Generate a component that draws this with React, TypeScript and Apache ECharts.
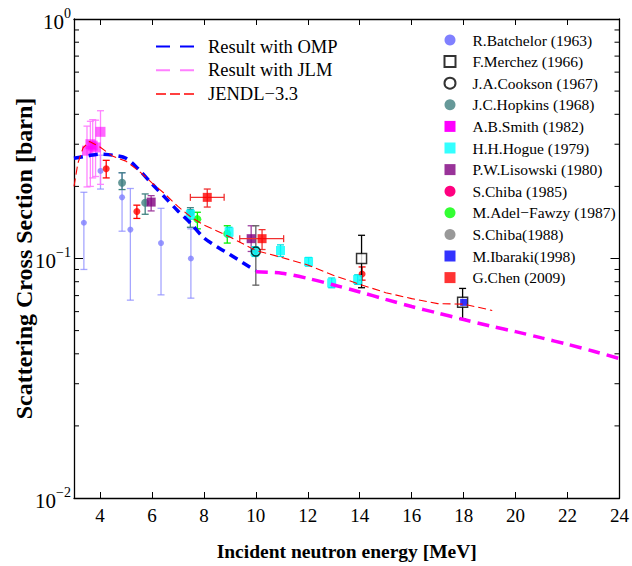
import React, { useEffect, useRef } from 'react';
import * as echarts from 'echarts';

// ---------- model curves ----------
const ompE = [3.0, 3.5, 4.0, 4.5, 5.0, 5.5, 6.0, 6.5, 7.0, 7.5, 8.0, 8.5, 9.0, 9.5, 10.0];
const ompV = [0.262, 0.268, 0.273, 0.27, 0.262, 0.235, 0.205, 0.18, 0.158, 0.14, 0.122, 0.112, 0.104, 0.096, 0.089];

const jlmE = [10.0, 11.0, 12.0, 13.0, 14.0, 15.0, 16.0, 17.0, 18.0, 19.0, 20.0, 21.0, 22.0, 23.0, 24.0];
const jlmV = [0.088, 0.0868, 0.0826, 0.0775, 0.0725, 0.0675, 0.063, 0.0592, 0.0556, 0.0523, 0.0495, 0.0466, 0.0438, 0.041, 0.0382];

const jendlE = [3.0, 3.15, 3.35, 3.6, 3.8, 4.0, 4.5, 5.0, 5.5, 6.0, 6.5, 7.0, 7.5, 8.0, 9.0, 10.0, 11.0, 12.0, 13.0, 14.0, 15.0, 16.0, 17.0, 18.0, 19.1];
const jendlV = [0.2, 0.25, 0.29, 0.308, 0.3, 0.292, 0.267, 0.255, 0.232, 0.207, 0.186, 0.165, 0.149, 0.138, 0.123, 0.108, 0.101, 0.094, 0.085, 0.078, 0.072, 0.068, 0.0648, 0.0645, 0.0607];

// ---------- experimental data ----------
const batchelorE = [3.38, 4.02, 4.85, 5.17, 6.35, 7.5];
const batchelorV = [0.141, 0.232, 0.18, 0.132, 0.116, 0.1];
const batchelorLo = [0.09, 0.195, 0.13, 0.067, 0.0705, 0.0683];
const batchelorHi = [0.189, 0.27, 0.228, 0.196, 0.162, 0.133];

const merchezE = [14.07, 17.96];
const merchezV = [0.1, 0.0656];
const merchezLo = [0.0755, 0.056];
const merchezHi = [0.125, 0.075];

const cooksonE = [10.0];
const cooksonV = [0.107];

const hopkinsE = [4.85, 5.74, 7.48];
const hopkinsV = [0.207, 0.171, 0.155];
const hopkinsLo = [0.194, 0.153, 0.135];
const hopkinsHi = [0.228, 0.186, 0.163];

const smithE = [3.5, 3.63, 3.72, 3.83, 4.02];
const smithV = [0.282, 0.3, 0.296, 0.291, 0.338];
const smithLo = [0.199, 0.2, 0.217, 0.22, 0.204];
const smithHi = [0.357, 0.374, 0.38, 0.378, 0.414];

const hogueE = [7.48, 8.97, 9.97, 10.95, 12.03, 12.92, 13.92];
const hogueV = [0.153, 0.129, 0.107, 0.108, 0.097, 0.079, 0.0817];
const hogueLo = [0.146, 0.123, 0.102, 0.102, 0.093, 0.0755, 0.078];
const hogueHi = [0.16, 0.135, 0.112, 0.114, 0.101, 0.0829, 0.0855];

const lisowskiE = [5.97, 9.82];
const lisowskiV = [0.172, 0.121];
const lisowskiLo = [0.158, 0.107];
const lisowskiHi = [0.183, 0.137];

const chiba85E = [4.24, 5.42, 14.09];
const chiba85V = [0.237, 0.157, 0.0861];
const chiba85Lo = [0.217, 0.147, 0.0812];
const chiba85Hi = [0.257, 0.167, 0.0922];

const adelE = [7.75, 8.9];
const adelV = [0.146, 0.127];
const adelLo = [0.133, 0.116];
const adelHi = [0.156, 0.137];

const chiba88E = [10.0];
const chiba88V = [0.107];
const chiba88Lo = [0.0774];
const chiba88Hi = [0.137];

const ibarakiE = [18.0];
const ibarakiV = [0.0656];

const chenE = [8.13, 10.24];
const chenV = [0.18, 0.121];
const chenLo = [0.164, 0.109];
const chenHi = [0.195, 0.132];
const chenXLo = [7.48, 9.38];
const chenXHi = [8.78, 11.07];

const xTicks = [4, 6, 8, 10, 12, 14, 16, 18, 20, 22, 24];
const yMinor = [0.02, 0.03, 0.04, 0.05, 0.06, 0.07, 0.08, 0.09, 0.2, 0.3, 0.4, 0.5, 0.6, 0.7, 0.8, 0.9];

const FONT = 'Liberation Serif';

const zip = (a: number[], b: number[]) => a.map((v, i) => [v, b[i]]);

function errSeries(name: string, E: number[], V: number[], lo: number[], hi: number[], color: string, z: number, xlo?: number[], xhi?: number[]) {
  const data = E.map((e, i) => [e, V[i], lo[i], hi[i], xlo ? xlo[i] : e, xhi ? xhi[i] : e]);
  return {
    type: 'custom',
    name: name + ' err',
    z,
    silent: true,
    encode: { x: 0, y: 1 },
    data,
    renderItem: (params: any, api: any) => {
      const e = api.value(0), v = api.value(1), l = api.value(2), h = api.value(3), xl = api.value(4), xh = api.value(5);
      const st = { stroke: color, lineWidth: 1.3, fill: 'none' };
      const pl = api.coord([e, l]);
      const ph = api.coord([e, h]);
      const cap = 3.5;
      const children: any[] = [
        { type: 'line', shape: { x1: pl[0], y1: pl[1], x2: ph[0], y2: ph[1] }, style: st },
        { type: 'line', shape: { x1: pl[0] - cap, y1: pl[1], x2: pl[0] + cap, y2: pl[1] }, style: st },
        { type: 'line', shape: { x1: ph[0] - cap, y1: ph[1], x2: ph[0] + cap, y2: ph[1] }, style: st },
      ];
      if (xl !== xh) {
        const a = api.coord([xl, v]);
        const b = api.coord([xh, v]);
        children.push(
          { type: 'line', shape: { x1: a[0], y1: a[1], x2: b[0], y2: b[1] }, style: st },
          { type: 'line', shape: { x1: a[0], y1: a[1] - cap, x2: a[0], y2: a[1] + cap }, style: st },
          { type: 'line', shape: { x1: b[0], y1: b[1] - cap, x2: b[0], y2: b[1] + cap }, style: st }
        );
      }
      return { type: 'group', children };
    },
  };
}

function scat(name: string, E: number[], V: number[], symbol: string, size: number, itemStyle: any, z: number) {
  return { type: 'scatter', name, symbol, symbolSize: size, data: zip(E, V), itemStyle, z, silent: true };
}

export default function App() {
  const ref = useRef<HTMLDivElement>(null);
  useEffect(() => {
    if (!ref.current) return;
    const chart = echarts.init(ref.current, null, { renderer: 'svg' });
    const lineLegend = ['Result with OMP', 'Result with JLM', 'JENDL\u22123.3'];
    const lineLegendStyle: any = {
      'Result with OMP': { type: [14, 10] },
      'Result with JLM': { type: [14, 10], color: '#ff80ff' },
      'JENDL\u22123.3': { type: [10, 4], color: '#ff4040' },
    };
    const names = [
      'R.Batchelor (1963)', 'F.Merchez (1966)', 'J.A.Cookson (1967)', 'J.C.Hopkins (1968)',
      'A.B.Smith (1982)', 'H.H.Hogue (1979)', 'P.W.Lisowski (1980)', 'S.Chiba (1985)',
      'M.Adel\u2212Fawzy (1987)', 'S.Chiba(1988)', 'M.Ibaraki(1998)', 'G.Chen (2009)',
    ];
    const legendColor: any = {
      'R.Batchelor (1963)': '#8080ff',
      'A.B.Smith (1982)': '#ff00ff',
      'S.Chiba (1985)': '#ff0080',
    };
    const option: any = {
      animation: false,
      backgroundColor: '#fff',
      textStyle: { fontFamily: FONT },
      grid: { left: 74, right: 9, top: 19, bottom: 58, containLabel: false },
      legend: [
        {
          data: lineLegend.map((n) => ({ name: n, itemStyle: { opacity: 0 }, lineStyle: lineLegendStyle[n] })),
          orient: 'vertical',
          left: 155,
          top: 37,
          padding: 0,
          itemWidth: 38,
          itemHeight: 12,
          itemGap: 4.7,
          selectedMode: false,
          formatter: (n: string) => `{t|${n}}`,
          textStyle: {
            fontFamily: FONT,
            fontSize: 18.5,
            color: '#000',
            rich: { t: { fontFamily: FONT, fontSize: 18.5, color: '#000', lineHeight: 18, padding: [0, 0, 0, 9] } },
          },
        },
        {
          data: names.map((n) =>
            legendColor[n] ? { name: n, itemStyle: { color: legendColor[n], opacity: 1 } } : { name: n }
          ),
          orient: 'vertical',
          left: 443.5,
          top: 32,
          padding: 0,
          itemWidth: 11,
          itemHeight: 11,
          itemGap: 5.6,
          selectedMode: false,
          formatter: (n: string) => `{t|${n}}`,
          textStyle: {
            fontFamily: FONT,
            fontSize: 15.5,
            color: '#000',
            rich: { t: { fontFamily: FONT, fontSize: 15.5, color: '#000', lineHeight: 14, padding: [0, 0, 0, 12] } },
          },
        },
      ],
      xAxis: [
        {
          type: 'value',
          min: 3,
          max: 24,
          name: 'Incident neutron energy [MeV]',
          nameLocation: 'middle',
          nameGap: 43,
          nameTextStyle: { fontFamily: FONT, fontSize: 19.5, fontWeight: 'bold', color: '#000' },
          axisLine: { onZero: false, lineStyle: { color: '#000', width: 1.3 } },
          axisTick: { inside: true, length: 6, customValues: xTicks, lineStyle: { color: '#000', width: 1 } },
          axisLabel: { customValues: xTicks, fontFamily: FONT, fontSize: 19, color: '#000', margin: 8 },
          splitLine: { show: false },
        },
        {
          type: 'value',
          position: 'top',
          min: 3,
          max: 24,
          axisLine: { onZero: false, lineStyle: { color: '#000', width: 1.3 } },
          axisTick: { inside: true, length: 6, customValues: xTicks, lineStyle: { color: '#000', width: 1 } },
          axisLabel: { show: false },
          splitLine: { show: false },
        },
      ],
      yAxis: [
        {
          type: 'log',
          logBase: 10,
          min: 0.01,
          max: 1,
          name: 'Scattering Cross Section [barn]',
          nameLocation: 'middle',
          nameGap: 38,
          nameMoveOverlap: false,
          nameTextStyle: { fontFamily: FONT, fontSize: 24, fontWeight: 'bold', color: '#000' },
          axisLine: { onZero: false, lineStyle: { color: '#000', width: 1.3 } },
          axisTick: { inside: true, length: 9, lineStyle: { color: '#000', width: 1 } },
          axisLabel: {
            margin: 3,
            formatter: (v: number) => {
              const p = Math.round(Math.log10(v));
              return `{b|10}{s|${p < 0 ? '\u2212' + -p : p}}`;
            },
            rich: {
              b: { fontFamily: FONT, fontSize: 21, color: '#000', verticalAlign: 'bottom', lineHeight: 26 },
              s: { fontFamily: FONT, fontSize: 14, color: '#000', verticalAlign: 'top', lineHeight: 14 },
            },
          },
          splitLine: { show: false },
        },
        {
          type: 'log',
          logBase: 10,
          min: 0.01,
          max: 1,
          position: 'right',
          axisLine: { onZero: false, lineStyle: { color: '#000', width: 1.3 } },
          axisTick: { inside: true, length: 9, lineStyle: { color: '#000', width: 1 } },
          axisLabel: { show: false },
          splitLine: { show: false },
        },
      ],
      series: [
        {
          type: 'custom',
          name: 'minorTicks',
          silent: true,
          encode: { x: 0, y: 1 },
          data: yMinor.map((v) => [3, v]),
          z: 1,
          renderItem: (params: any, api: any) => {
            const p = api.coord([3, api.value(1)]);
            const cs = params.coordSys;
            const st = { stroke: '#000', lineWidth: 1 };
            return {
              type: 'group',
              children: [
                { type: 'line', shape: { x1: cs.x, y1: p[1], x2: cs.x + 5, y2: p[1] }, style: st },
                { type: 'line', shape: { x1: cs.x + cs.width - 5, y1: p[1], x2: cs.x + cs.width, y2: p[1] }, style: st },
              ],
            };
          },
        },
        errSeries('R.Batchelor (1963)', batchelorE, batchelorV, batchelorLo, batchelorHi, 'rgba(128,128,255,0.7)', 2),
        scat('R.Batchelor (1963)', batchelorE, batchelorV, 'circle', 6, { color: '#8080ff', opacity: 0.8 }, 3),
        errSeries('A.B.Smith (1982)', smithE, smithV, smithLo, smithHi, 'rgba(255,120,255,0.9)', 2),
        scat('A.B.Smith (1982)', smithE, smithV, 'rect', 10, { color: '#ff00ff', opacity: 0.6 }, 3),
        errSeries('J.C.Hopkins (1968)', hopkinsE, hopkinsV, hopkinsLo, hopkinsHi, '#408080', 4),
        scat('J.C.Hopkins (1968)', hopkinsE, hopkinsV, 'circle', 8, { color: '#408080' }, 5),
        errSeries('P.W.Lisowski (1980)', lisowskiE, lisowskiV, lisowskiLo, lisowskiHi, '#a040a0', 4),
        scat('P.W.Lisowski (1980)', lisowskiE, lisowskiV, 'rect', 9, { color: '#800080' }, 5),
        errSeries('S.Chiba (1985)', chiba85E, chiba85V, chiba85Lo, chiba85Hi, '#ff0000', 4),
        scat('S.Chiba (1985)', chiba85E, chiba85V, 'circle', 7, { color: '#ff0000' }, 5),
        errSeries('M.Adel\u2212Fawzy (1987)', adelE, adelV, adelLo, adelHi, '#00ee00', 4),
        scat('M.Adel\u2212Fawzy (1987)', adelE, adelV, 'circle', 8, { color: '#00ff00' }, 5),
        errSeries('S.Chiba(1988)', chiba88E, chiba88V, chiba88Lo, chiba88Hi, '#606060', 4),
        scat('S.Chiba(1988)', chiba88E, chiba88V, 'circle', 6, { color: '#808080' }, 5),
        errSeries('H.H.Hogue (1979)', hogueE, hogueV, hogueLo, hogueHi, '#00e0e0', 5),
        scat('H.H.Hogue (1979)', hogueE, hogueV, 'rect', 9, { color: '#00ffff' }, 6),
        errSeries('G.Chen (2009)', chenE, chenV, chenLo, chenHi, '#f03030', 6, chenXLo, chenXHi),
        scat('G.Chen (2009)', chenE, chenV, 'rect', 9, { color: '#ff0000' }, 7),
        errSeries('F.Merchez (1966)', merchezE, merchezV, merchezLo, merchezHi, '#000000', 6),
        scat('F.Merchez (1966)', merchezE, merchezV, 'rect', 10, { color: '#ffffff', borderColor: '#000', borderWidth: 1.5 }, 7),
        scat('M.Ibaraki(1998)', ibarakiE, ibarakiV, 'rect', 7, { color: '#0000ff' }, 8),
        scat('J.A.Cookson (1967)', cooksonE, cooksonV, 'circle', 9, { color: 'rgba(0,0,0,0)', borderColor: '#000', borderWidth: 1.5 }, 8),
        {
          type: 'line',
          name: 'Result with OMP',
          data: zip(ompE, ompV),
          symbol: 'none',
          smooth: 0.3,
          z: 10,
          lineStyle: { color: '#0000ff', width: 3.5, type: [9, 6] },
          itemStyle: { color: '#0000ff' },
        },
        {
          type: 'line',
          name: 'Result with JLM',
          data: zip(jlmE, jlmV),
          symbol: 'none',
          smooth: 0.3,
          z: 10,
          lineStyle: { color: '#ff00ff', width: 3.5, type: [12, 7] },
          itemStyle: { color: '#ff00ff' },
        },
        {
          type: 'line',
          name: 'JENDL\u22123.3',
          data: zip(jendlE, jendlV),
          symbol: 'none',
          z: 10,
          lineStyle: { color: '#ff0000', width: 1.1, type: [8, 4] },
          itemStyle: { color: '#ff0000' },
        },
      ],
    };
    chart.setOption(option);
    return () => chart.dispose();
  }, []);
  return <div ref={ref} style={{ position: 'fixed', left: 0, top: 0, width: 632, height: 566, background: '#fff' }} />;
}
